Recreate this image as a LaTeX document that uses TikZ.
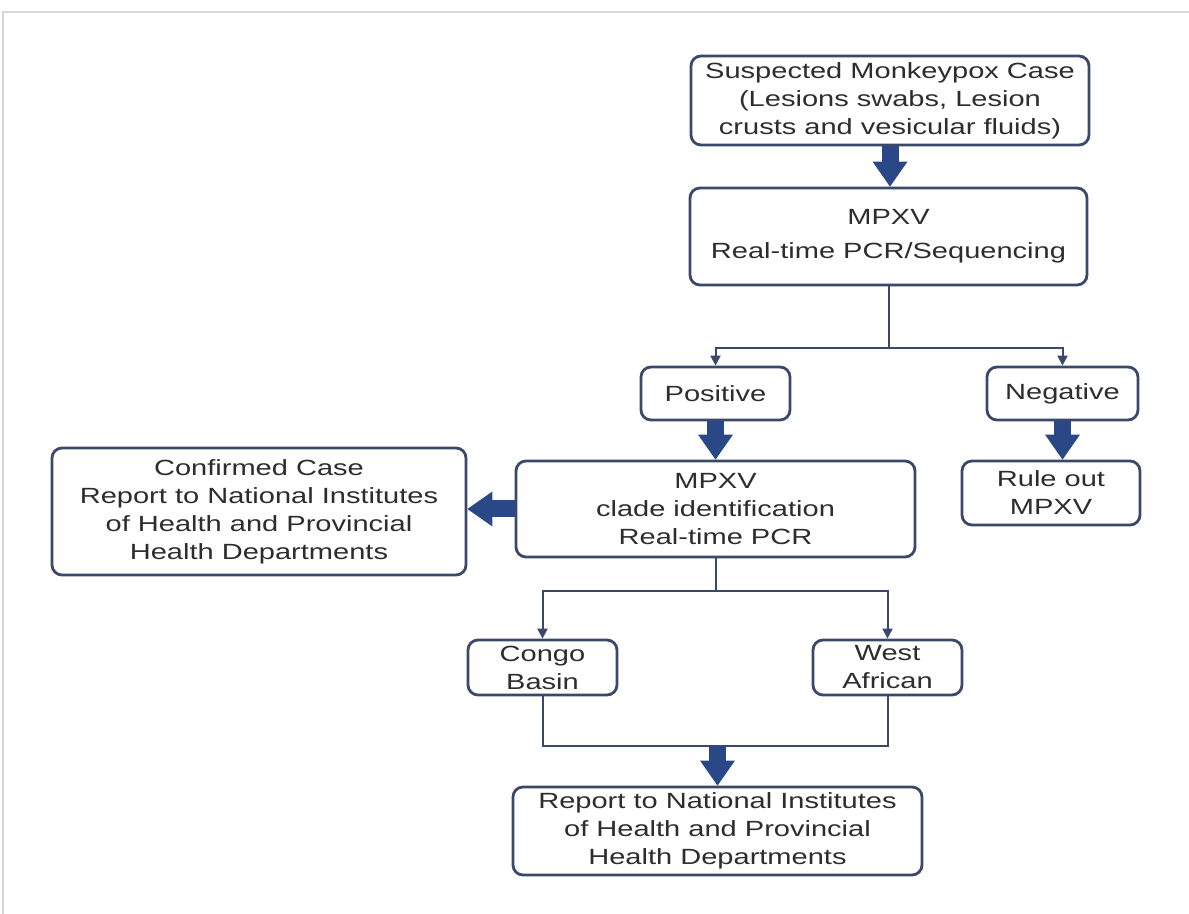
\documentclass[tikz,border=0pt]{standalone}
\usepackage{fontspec}
\setmainfont[FakeStretch=1.32]{Liberation Sans}
\usetikzlibrary{arrows.meta}
\definecolor{boxline}{RGB}{58,72,105}
\definecolor{fatblue}{RGB}{42,72,135}
\definecolor{txt}{RGB}{45,45,45}
\definecolor{framegray}{RGB}{215,215,215}

\begin{document}
\begin{tikzpicture}[x=0.5pt, y=-0.5pt,
    box/.style={draw=boxline, line width=1.4pt, rounded corners=5pt, fill=white, align=center, text=txt, inner sep=0pt, font=\fontsize{11}{14}\selectfont},
    plain/.style={draw=boxline, line width=1pt},
    link/.style={plain, -{Triangle[length=5pt, width=5pt]}},
    fat/.style={draw=fatblue, line width=8.5pt, -{Triangle[length=12.5pt, width=17.5pt, line width=0pt]}}]

    \useasboundingbox (0,0) rectangle (1189,914);
    \draw[framegray, line width=1pt] (3,914) -- (3,12) -- (1189,12);

    \node[box, minimum width=199pt, minimum height=44.5pt] (suspect) at (890,100.5) {Suspected Monkeypox Case\\(Lesions swabs, Lesion\\crusts and vesicular fluids)};
    \node[box, minimum width=198.5pt, minimum height=48.5pt] (pcr) at (888.5,236.5) {MPXV\\[3pt]Real-time PCR/Sequencing};
    \node[box, minimum width=74.5pt, minimum height=26.5pt] (pos) at (715.5,393.5) {Positive};
    \node[box, minimum width=75.5pt, minimum height=26.5pt] (neg) at (1062.5,393.5) {Negative};
    \node[box, minimum width=199.5pt, minimum height=48pt] (clade) at (715.5,509) {MPXV\\clade identification\\Real-time PCR};
    \node[box, minimum width=89pt, minimum height=32pt] (rule) at (1051,493) {Rule out\\MPXV};
    \node[box, minimum width=207pt, minimum height=63.5pt] (confirm) at (259,511.5) {Confirmed Case\\Report to National Institutes\\of Health and Provincial\\Health Departments};
    \node[box, minimum width=74.5pt, minimum height=27.5pt] (congo) at (542.5,667.5) {Congo\\Basin};
    \node[box, minimum width=74.5pt, minimum height=27.5pt] (west) at (887.5,667.5) {West\\African};
    \node[box, minimum width=204.5pt, minimum height=44pt] (report) at (717.5,831) {Report to National Institutes\\of Health and Provincial\\Health Departments};

    \coordinate (fork1) at (888.5,348);
    \coordinate (fork2) at (715.5,591);
    \coordinate (join) at (717.5,746);

    \draw[fat] (suspect.south) -- (suspect.south |- pcr.north);
    \draw[plain] (pcr) -- (fork1);
    \draw[link] (fork1) -| (pos);
    \draw[link] (fork1) -| (neg);
    \draw[fat] (pos) -- (clade);
    \draw[fat] (neg.south) -- (neg.south |- rule.north);
    \draw[fat] (clade.west) -- (clade.west -| confirm.east);
    \draw[plain] (clade) -- (fork2);
    \draw[link] (fork2) -| (congo);
    \draw[link] (fork2) -| (west);
    \draw[plain] (congo.south) |- (join) -| (west.south);
    \draw[fat] (join) -- (report);

\end{tikzpicture}
\end{document}
